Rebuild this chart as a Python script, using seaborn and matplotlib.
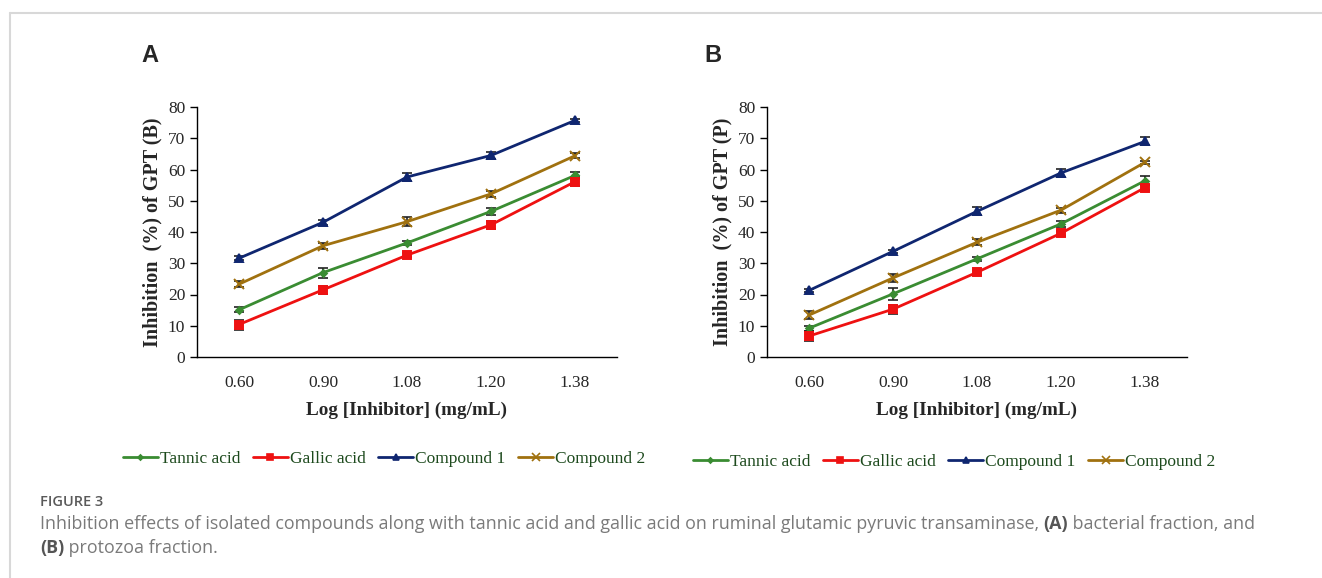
import numpy as np
import pandas as pd
import matplotlib
matplotlib.use("Agg")
import matplotlib.pyplot as plt
import seaborn as sns
from matplotlib.lines import Line2D

# x categories (log inhibitor concentration)
doses = ["0.60", "0.90", "1.08", "1.20", "1.38"]
series_names = ["Tannic acid", "Gallic acid", "Compound 1", "Compound 2"]

# panel A: bacterial fraction
tannic_a = [15.1, 27.0, 36.5, 46.6, 58.1]
gallic_a = [10.4, 21.5, 32.6, 42.3, 56.1]
comp1_a = [31.6, 43.1, 57.6, 64.5, 75.7]
comp2_a = [23.3, 35.6, 43.3, 52.2, 64.4]
tannic_a_err = [0.8, 1.6, 0.5, 1.0, 1.2]
gallic_a_err = [1.6, 1.2, 0.6, 1.2, 1.5]
comp1_a_err = [0.6, 0.8, 1.3, 1.0, 0.5]
comp2_a_err = [1.0, 1.0, 1.5, 1.0, 0.8]

# panel B: protozoa fraction
tannic_b = [9.2, 20.2, 31.4, 42.6, 56.4]
gallic_b = [6.7, 15.3, 27.1, 39.6, 54.2]
comp1_b = [21.3, 33.8, 46.6, 58.9, 69.0]
comp2_b = [13.4, 25.3, 36.7, 47.0, 62.3]
tannic_b_err = [0.8, 1.8, 0.6, 1.0, 1.5]
gallic_b_err = [1.5, 1.4, 0.8, 0.8, 0.8]
comp1_b_err = [0.5, 0.5, 1.3, 1.2, 1.3]
comp2_b_err = [1.2, 1.3, 1.0, 0.8, 0.5]

colors = {"Tannic acid": "#3a8c32", "Gallic acid": "#ee1111",
          "Compound 1": "#0f2670", "Compound 2": "#a0710f"}
markers = {"Tannic acid": "D", "Gallic acid": "s",
           "Compound 1": "^", "Compound 2": "x"}
msizes = {"Tannic acid": 3.5, "Gallic acid": 5.5, "Compound 1": 5.5, "Compound 2": 7.5}

sns.set_style("white")
plt.rcParams["font.family"] = ["Liberation Serif", "DejaVu Serif"]


def make_frame(vals, errs):
    rows = []
    for name, v, e in zip(series_names, vals, errs):
        for i, d in enumerate(doses):
            rows.append({"pos": i, "dose": d, "value": v[i], "err": e[i], "series": name})
    return pd.DataFrame(rows)


def draw_panel(ax, df, ylabel):
    for name in series_names:
        sub = df[df["series"] == name]
        ax.errorbar(sub["pos"], sub["value"], yerr=sub["err"], fmt="none",
                    ecolor="#222222", elinewidth=1.2, capsize=3.5, capthick=1.2, zorder=2)
        sns.lineplot(data=sub, x="pos", y="value", color=colors[name],
                     marker=markers[name], markersize=msizes[name],
                     markeredgecolor=colors[name], markeredgewidth=1.4,
                     linewidth=2, ax=ax, legend=False, zorder=3)
    ax.set_xlim(-0.5, 4.5)
    ax.set_ylim(0, 80)
    ax.set_yticks(range(0, 81, 10))
    ax.set_xticks(range(5))
    ax.set_xticklabels(doses)
    ax.set_xticks(np.arange(-0.5, 5, 1), minor=True)
    ax.tick_params(axis="x", which="major", length=0, pad=13, labelsize=12.5)
    ax.tick_params(axis="x", which="minor", length=5, width=1, direction="out", color="black")
    ax.tick_params(axis="y", length=5, width=1, direction="out", color="black", labelsize=12.5, left=True)
    sns.despine(ax=ax)
    for s in ["left", "bottom"]:
        ax.spines[s].set_color("black")
        ax.spines[s].set_linewidth(1)
    ax.set_xlabel("Log [Inhibitor] (mg/mL)", fontsize=13.8, fontweight="bold", labelpad=8)
    ax.set_ylabel(ylabel, fontsize=14.5, fontweight="bold", labelpad=4)


fig = plt.figure(figsize=(13.22, 5.78), dpi=100)
ax_a = fig.add_axes([197 / 1322, 1 - 357 / 578, 420 / 1322, 250 / 578])
ax_b = fig.add_axes([767 / 1322, 1 - 357 / 578, 420 / 1322, 250 / 578])

df_a = make_frame([tannic_a, gallic_a, comp1_a, comp2_a],
                  [tannic_a_err, gallic_a_err, comp1_a_err, comp2_a_err])
df_b = make_frame([tannic_b, gallic_b, comp1_b, comp2_b],
                  [tannic_b_err, gallic_b_err, comp1_b_err, comp2_b_err])
draw_panel(ax_a, df_a, "Inhibition  (%) of GPT (B)")
draw_panel(ax_b, df_b, "Inhibition  (%) of GPT (P)")

# legends under each panel
handles = [Line2D([], [], color=colors[n], marker=markers[n], markersize=msizes[n] * 0.75,
                  markeredgewidth=1.2, linewidth=2) for n in series_names]
for cx, cy in [(384 / 1322, 1 - 459 / 578), (954 / 1322, 1 - 462 / 578)]:
    leg = fig.legend(handles, series_names, loc="center", bbox_to_anchor=(cx, cy),
                     ncol=4, frameon=False, fontsize=12.5, handlelength=2.0,
                     handletextpad=0.1, columnspacing=0.75)
    for t in leg.get_texts():
        t.set_color("#1d4a1d")

# panel letters
fig.text(150 / 1322, 1 - 55 / 578, "A", fontsize=17, fontweight="bold",
         family="Liberation Sans", ha="center", va="center")
fig.text(713 / 1322, 1 - 55 / 578, "B", fontsize=17, fontweight="bold",
         family="Liberation Sans", ha="center", va="center")

# page frame lines
fig.add_artist(Line2D([10 / 1322, 1], [1 - 13 / 578] * 2, color="#d8d8d8", lw=1.5))
fig.add_artist(Line2D([10 / 1322] * 2, [0, 1 - 13 / 578], color="#d8d8d8", lw=1.5))

# caption
cap_font = ["Open Sans", "DejaVu Sans"]
fig.text(40 / 1322, 1 - 502 / 578, "FIGURE 3", fontsize=10.5, fontweight="semibold",
         family=cap_font, color="#5a5a5a", va="center")


def inline_text(x, y, parts):
    fig.canvas.draw()
    r = fig.canvas.get_renderer()
    for s, bold in parts:
        t = fig.text(x, y, s, fontsize=12.9, family=cap_font, va="center",
                     fontweight="bold" if bold else "normal",
                     color="#555555" if bold else "#7a7a7a")
        bb = t.get_window_extent(renderer=r)
        x += bb.width / fig.bbox.width


inline_text(40 / 1322, 1 - 524 / 578, [
    ("Inhibition effects of isolated compounds along with tannic acid and gallic acid on ruminal glutamic pyruvic transaminase, ", False),
    ("(A)", True), (" bacterial fraction, and", False)])
inline_text(40 / 1322, 1 - 548 / 578, [("(B)", True), (" protozoa fraction.", False)])

fig.savefig("out.png", dpi=100)
